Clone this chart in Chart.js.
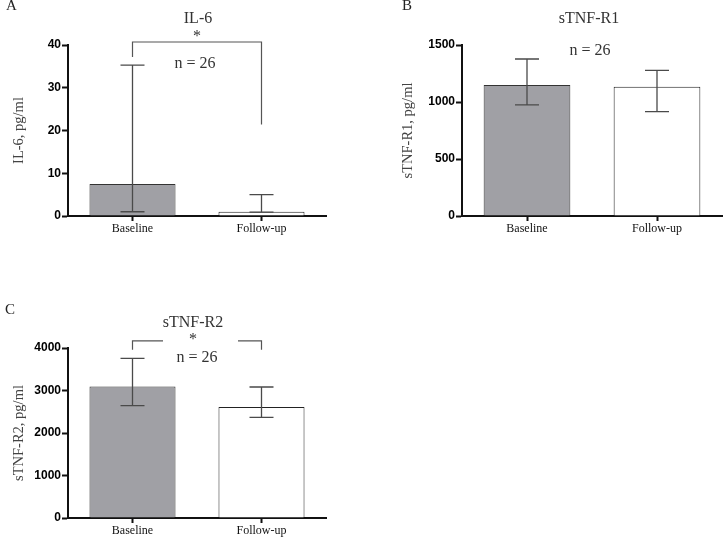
<!DOCTYPE html>
<html><head><meta charset="utf-8">
<script src="https://cdn.jsdelivr.net/npm/chart.js@4/dist/chart.umd.min.js"></script>
<style>
html,body{margin:0;padding:0;background:#fff;width:723px;height:538px;overflow:hidden;position:relative}
canvas{position:absolute}
.t{position:absolute;transform:translate(-50%,-50%);font-family:"Liberation Serif","Times New Roman",serif;color:#333;line-height:1;white-space:nowrap;font-size:16px}
.p{position:absolute;font-family:"Liberation Serif","Times New Roman",serif;color:#222;line-height:1;font-size:15px}
</style></head><body>
<canvas id="cA" width="340" height="260" style="left:0;top:0"></canvas>
<canvas id="cB" width="362" height="260" style="left:361px;top:0"></canvas>
<canvas id="cC" width="340" height="268" style="left:0;top:270px"></canvas>

<div class="p" style="left:6px;top:-2px">A</div>
<div class="t" style="left:198px;top:18px">IL-6</div>
<div class="t" style="left:197px;top:36px">*</div>
<div class="t" style="left:195px;top:63px">n = 26</div>

<div class="p" style="left:402px;top:-2px">B</div>
<div class="t" style="left:589px;top:18px">sTNF-R1</div>
<div class="t" style="left:590px;top:50px">n = 26</div>

<div class="p" style="left:5px;top:302px">C</div>
<div class="t" style="left:193px;top:322px">sTNF-R2</div>
<div class="t" style="left:193px;top:339px">*</div>
<div class="t" style="left:197px;top:357px">n = 26</div>

<script>
// ---- data ----
const categories = ['Baseline', 'Follow-up'];

const il6Means = [7.5, 1.0];
const il6Upper = [35.3, 5.0];
const il6Lower = [1.0, 0.9];
const il6Ticks = [0, 10, 20, 30, 40];

const r1Means = [1150, 1134];
const r1Upper = [1377, 1278];
const r1Lower = [974, 915];
const r1Ticks = [0, 500, 1000, 1500];

const r2Means = [3096, 2612];
const r2Upper = [3755, 3082];
const r2Lower = [2642, 2367];
const r2Ticks = [0, 1000, 2000, 3000, 4000];

// significance brackets (in value units)
const il6Bracket = {top: 40.7, leftEnd: 37.2, rightEnd: 21.4};
const r2Bracket = {top: 4170, leftEnd: 3960, rightEnd: 3960};

// ---- styles ----
const fillColors = ['#a0a0a5', '#ffffff'];
const edgeColors = ['#333333', '#222222'];

function errorPlugin(upper, lower) {
  return {
    id: 'errorBars',
    afterDatasetsDraw(chart) {
      const ctx = chart.ctx, y = chart.scales.y;
      const meta = chart.getDatasetMeta(0);
      ctx.save();
      ctx.strokeStyle = '#4a4a4a';
      ctx.lineWidth = 1.3;
      meta.data.forEach((bar, i) => {
        const x = bar.x, cap = 12;
        const yu = y.getPixelForValue(upper[i]);
        const yl = y.getPixelForValue(lower[i]);
        ctx.beginPath();
        ctx.moveTo(x, yl); ctx.lineTo(x, yu);
        ctx.moveTo(x - cap, yu); ctx.lineTo(x + cap, yu);
        ctx.moveTo(x - cap, yl); ctx.lineTo(x + cap, yl);
        ctx.stroke();
      });
      ctx.restore();
    }
  };
}

function bracketPlugin(br, gap) {
  return {
    id: 'bracket',
    afterDatasetsDraw(chart) {
      const ctx = chart.ctx, y = chart.scales.y;
      const meta = chart.getDatasetMeta(0);
      const x0 = meta.data[0].x, x1 = meta.data[1].x;
      const yt = y.getPixelForValue(br.top);
      const yl = y.getPixelForValue(br.leftEnd);
      const yr = y.getPixelForValue(br.rightEnd);
      ctx.save();
      ctx.strokeStyle = '#555';
      ctx.lineWidth = 1.2;
      ctx.beginPath();
      if (!gap) {
        ctx.moveTo(x0, yl); ctx.lineTo(x0, yt); ctx.lineTo(x1, yt); ctx.lineTo(x1, yr);
      } else {
        const mid = (x0 + x1) / 2 + gap.shift;
        ctx.moveTo(x0, yl); ctx.lineTo(x0, yt); ctx.lineTo(mid - gap.left, yt);
        ctx.moveTo(mid + gap.right, yt); ctx.lineTo(x1, yt); ctx.lineTo(x1, yr);
      }
      ctx.stroke();
      ctx.restore();
    }
  };
}

function makeChart(id, means, upper, lower, ticks, yTitle, pad, yWidth, xHeight, extraPlugins) {
  const yMax = ticks[ticks.length - 1];
  return new Chart(document.getElementById(id), {
    type: 'bar',
    data: {
      labels: categories,
      datasets: [{
        data: means,
        backgroundColor: fillColors,
        borderColor: edgeColors,
        borderWidth: 1,
        barPercentage: 0.667,
        categoryPercentage: 1
      }]
    },
    options: {
      responsive: false,
      animation: false,
      layout: {padding: pad},
      plugins: {legend: {display: false}, tooltip: {enabled: false}},
      scales: {
        x: {
          ticks: {color: '#111', font: {family: '"Liberation Serif", "Times New Roman", serif', size: 12}, padding: 1},
          grid: {offset: false, drawOnChartArea: false, tickLength: 5, tickWidth: 2, tickColor: '#111'},
          border: {color: '#111', width: 2},
          afterFit(s) { s.height = xHeight; }
        },
        y: {
          min: 0, max: yMax,
          afterBuildTicks(s) { s.ticks = ticks.map(v => ({value: v})); },
          ticks: {color: '#000', font: {family: '"Liberation Sans", Arial, sans-serif', weight: 'bold', size: 12}, padding: 1,
                  callback: v => String(v)},
          grid: {drawOnChartArea: false, tickLength: 6, tickWidth: 2, tickColor: '#111'},
          border: {color: '#111', width: 2},
          title: {display: true, text: yTitle, color: '#444', font: {family: '"Liberation Serif", "Times New Roman", serif', size: 14.5}, padding: {top: 4, bottom: 0}},
          afterFit(s) { s.width = yWidth; }
        }
      }
    },
    plugins: [errorPlugin(upper, lower)].concat(extraPlugins || [])
  });
}

makeChart('cA', il6Means, il6Upper, il6Lower, il6Ticks, 'IL-6, pg/ml',
  {left: 6, top: 45, right: 14, bottom: 0}, 62, 44, [bracketPlugin(il6Bracket, null)]);
makeChart('cB', r1Means, r1Upper, r1Lower, r1Ticks, 'sTNF-R1, pg/ml',
  {left: 34, top: 45, right: 1, bottom: 0}, 67, 44, []);
makeChart('cC', r2Means, r2Upper, r2Lower, r2Ticks, 'sTNF-R2, pg/ml',
  {left: 6, top: 78, right: 14, bottom: 0}, 62, 20, [bracketPlugin(r2Bracket, {shift: 0, left: 34, right: 41})]);
</script>
</body></html>
